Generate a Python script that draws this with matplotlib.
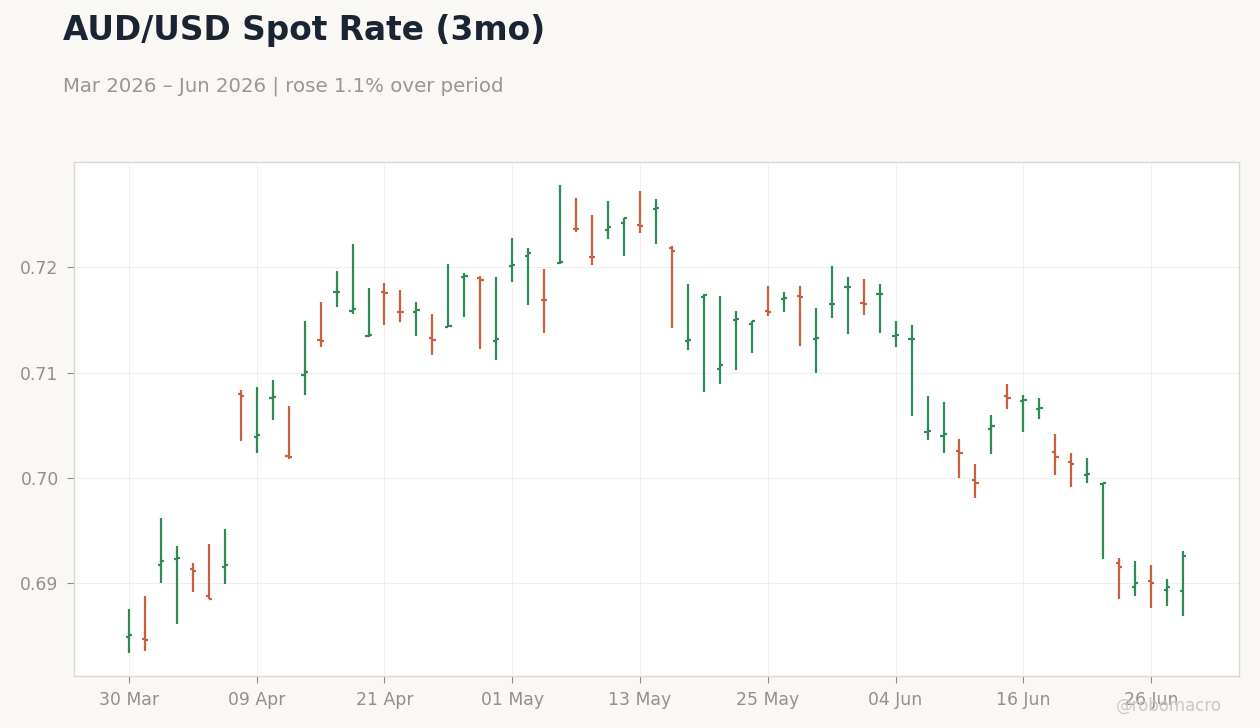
import matplotlib
matplotlib.use("Agg")
import matplotlib.pyplot as plt
import pandas as pd
import numpy as np

plt.rcParams["font.family"] = ["DejaVu Sans"]

dates = pd.bdate_range("2026-03-30", periods=67)

opens = [0.68489, 0.68467, 0.69174, 0.69229, 0.69136, 0.68879, 0.69155, 0.70793, 0.70390, 0.70762,
         0.70203, 0.70974, 0.71308, 0.71762, 0.71590, 0.71350, 0.71769, 0.71581, 0.71581, 0.71327,
         0.71435, 0.71911, 0.71898, 0.71305, 0.72012, 0.72111, 0.71692, 0.72038, 0.72369, 0.72102,
         0.72355, 0.72422, 0.72403, 0.72552, 0.72188, 0.71305, 0.71717, 0.71031, 0.71505, 0.71460,
         0.71584, 0.71698, 0.71727, 0.71317, 0.71648, 0.71810, 0.71660, 0.71743, 0.71346, 0.71317,
         0.70438, 0.70393, 0.70250, 0.69974, 0.70464, 0.70774, 0.70733, 0.70650, 0.70241, 0.70146,
         0.70029, 0.69940, 0.69184, 0.68965, 0.69022, 0.68933, 0.68927]
highs = [0.68752, 0.68876, 0.69619, 0.69352, 0.69190, 0.69371, 0.69514, 0.70838, 0.70867, 0.70933,
         0.70686, 0.71486, 0.71667, 0.71971, 0.72219, 0.71800, 0.71848, 0.71790, 0.71667, 0.71562,
         0.72029, 0.71952, 0.71921, 0.71914, 0.72276, 0.72181, 0.71981, 0.72781, 0.72657, 0.72495,
         0.72629, 0.72471, 0.72724, 0.72648, 0.72200, 0.71838, 0.71743, 0.71724, 0.71590, 0.71492,
         0.71819, 0.71762, 0.71819, 0.71619, 0.72010, 0.71905, 0.71886, 0.71838, 0.71486, 0.71457,
         0.70781, 0.70724, 0.70371, 0.70133, 0.70600, 0.70895, 0.70790, 0.70762, 0.70419, 0.70238,
         0.70190, 0.69952, 0.69238, 0.69210, 0.69171, 0.69038, 0.69305]
lows = [0.68336, 0.68355, 0.69003, 0.68612, 0.68917, 0.68848, 0.68993, 0.70346, 0.70231, 0.70546,
        0.70178, 0.70784, 0.71241, 0.71622, 0.71555, 0.71340, 0.71450, 0.71479, 0.71346, 0.71165,
        0.71433, 0.71527, 0.71226, 0.71117, 0.71864, 0.71641, 0.71374, 0.72035, 0.72336, 0.72019,
        0.72267, 0.72108, 0.72327, 0.72219, 0.71422, 0.71212, 0.70812, 0.70889, 0.71022, 0.71184,
        0.71536, 0.71574, 0.71250, 0.70993, 0.71517, 0.71365, 0.71546, 0.71374, 0.71241, 0.70584,
        0.70355, 0.70231, 0.69993, 0.69803, 0.70222, 0.70650, 0.70431, 0.70555, 0.70022, 0.69908,
        0.69946, 0.69222, 0.68850, 0.68879, 0.68765, 0.68784, 0.68689]
closes = [0.68505, 0.68457, 0.69203, 0.69238, 0.69117, 0.68850, 0.69174, 0.70774, 0.70403, 0.70765,
          0.70200, 0.71003, 0.71298, 0.71767, 0.71607, 0.71355, 0.71759, 0.71574, 0.71597, 0.71308,
          0.71441, 0.71921, 0.71879, 0.71321, 0.72019, 0.72136, 0.71686, 0.72050, 0.72362, 0.72095,
          0.72384, 0.72470, 0.72393, 0.72565, 0.72155, 0.71308, 0.71740, 0.71070, 0.71510, 0.71489,
          0.71581, 0.71705, 0.71717, 0.71333, 0.71652, 0.71814, 0.71650, 0.71748, 0.71355, 0.71324,
          0.70443, 0.70412, 0.70231, 0.69946, 0.70489, 0.70755, 0.70738, 0.70660, 0.70193, 0.70133,
          0.70033, 0.69950, 0.69155, 0.69003, 0.69003, 0.68965, 0.69260]

UP = "#2e8a56"
DOWN = "#c9603e"
BG = "#f9f8f5"
TXT = "#948f8a"

fig = plt.figure(figsize=(12.6, 7.28), dpi=100, facecolor=BG)
ax = fig.add_axes([74/1260, 1-676/728, (1239-74)/1260, (676-162)/728])
ax.set_facecolor("white")

x = np.arange(len(dates))
o = np.array(opens); h = np.array(highs); l = np.array(lows); c = np.array(closes)
cols = [UP if cc >= oo else DOWN for oo, cc in zip(o, c)]
tk = 0.2
ax.vlines(x, l, h, colors=cols, linewidth=1.6, zorder=3)
ax.hlines(o, x - tk, x, colors=cols, linewidth=1.6, zorder=3)
ax.hlines(c, x, x + tk, colors=cols, linewidth=1.6, zorder=3)

ax.set_xlim(-3.44, 69.5)
rng = max(highs) - min(lows)
ax.set_ylim(min(lows) - 0.05*rng, max(highs) + 0.05*rng)

tick_idx = list(range(0, len(dates), 8))
ax.set_xticks(tick_idx)
ax.set_xticklabels([dates[i].strftime("%d %b") for i in tick_idx])
ax.set_yticks([0.69, 0.70, 0.71, 0.72])
ax.set_yticklabels(["0.69", "0.70", "0.71", "0.72"])

ax.grid(True, color="#efefef", linewidth=0.8, zorder=0)
ax.set_axisbelow(True)
for s in ax.spines.values():
    s.set_color("#dcd7d1")
    s.set_linewidth(1.0)
ax.tick_params(colors="#8f8a85", labelcolor=TXT, labelsize=12.4, length=5, width=0.8)
ax.tick_params(axis="x", pad=6)
ax.tick_params(axis="y", pad=6)

fig.text(63/1260, 1-40/728, "AUD/USD Spot Rate (3mo)", fontsize=23.6, fontweight="bold",
         color="#1b2433", va="baseline", ha="left")
fig.text(63/1260, 1-92/728, "Mar 2026 \u2013 Jun 2026 | rose 1.1% over period", fontsize=14.2,
         color="#9a9691", va="baseline", ha="left")
fig.text(1222/1260, 1-711/728, "@robomacro", fontsize=12, color="#cbc8c3",
         va="baseline", ha="right")

fig.savefig("out.png", dpi=100, facecolor=BG)
